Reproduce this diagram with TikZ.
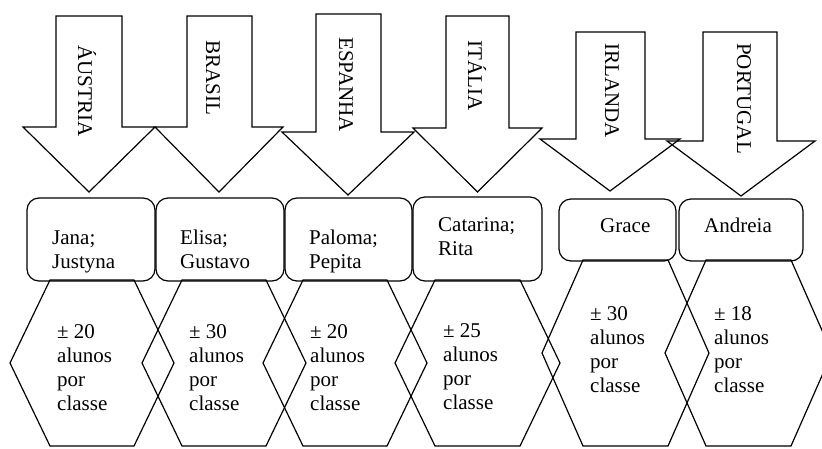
\documentclass[tikz,border=0pt]{standalone}
\usepackage{fontspec}
\setmainfont{Liberation Serif}
\tikzset{
  outline/.style={draw=black, line width=1.2pt, line join=miter},
  txt/.style={inner sep=0pt, font=\fontsize{21}{24}\selectfont},
  vlabel/.style={txt, rotate=-90, anchor=base west},
  btxt/.style={txt, anchor=base west}
}
% lines stacked with their first baseline as the node's baseline
\newcommand\stacked[1]{\begin{tabular}[t]{@{}l@{}}#1\end{tabular}}
% down arrow: shaft left, shaft right, top, head base, head left, head right, tip y
\newcommand\countryarrow[7]{%
  \draw[outline] (#1,#3) -- (#2,#3) -- (#2,#4) -- (#6,#4)
    -- ({(#5+#6)/2},#7) -- (#5,#4) -- (#1,#4) -- cycle;}
% hexagon: top left x, top right x, top y, side vertex y, bottom y, side offset
\newcommand\classhex[6]{%
  \draw[outline] (#1,#3) -- (#2,#3) -- ({#2+#6},#4) -- (#2,#5)
    -- (#1,#5) -- ({#1-#6},#4) -- cycle;}
\begin{document}
\begin{tikzpicture}[x=1pt,y=-1pt]
\useasboundingbox (0,0) rectangle (822,448);

% country arrows
\countryarrow{56}{122}{16}{127}{23}{155}{192}
\countryarrow{187}{252}{16}{127}{155}{283}{192}
\countryarrow{316}{381}{14}{132}{282}{414}{195}
\countryarrow{446}{509}{16}{128}{413}{542}{192}
\countryarrow{576}{645}{32}{139}{540}{680}{191}
\countryarrow{703}{777}{32}{141}{667}{815}{196}

\node[vlabel] (aus) at (78,45) {ÁUSTRIA};
\node[vlabel] (bra) at (206,40) {BRASIL};
\node[vlabel] (esp) at (339,37) {ESPANHA};
\node[vlabel] (ita) at (468,40) {ITÁLIA};
\node[vlabel] (irl) at (605,43) {IRLANDA};
\node[vlabel] (por) at (737,43) {PORTUGAL};

% name boxes
\draw[outline, rounded corners=12pt] (27,198) rectangle (155,281);
\draw[outline, rounded corners=12pt] (156,198) rectangle (284,281);
\draw[outline, rounded corners=12pt] (285,198) rectangle (412,281);
\draw[outline, rounded corners=12pt] (413,197) rectangle (542,281);
\draw[outline, rounded corners=12pt] (559,199) rectangle (676,261);
\draw[outline, rounded corners=12pt] (679,199) rectangle (803,261);

\node[btxt] (n1) at (52,244) {\stacked{Jana;\\Justyna}};
\node[btxt] (n2) at (180,244) {\stacked{Elisa;\\Gustavo}};
\node[btxt] (n3) at (309,244) {\stacked{Paloma;\\Pepita}};
\node[btxt] (n4) at (438,231) {\stacked{Catarina;\\Rita}};
\node[btxt] (n5) at (600,232) {Grace};
\node[btxt] (n6) at (704,232) {Andreia};

% class size hexagons
\classhex{50}{134}{280}{363}{446}{40}
\classhex{182}{266}{280}{363}{446}{40}
\classhex{303}{387}{280}{363}{446}{40}
\classhex{435}{520}{280}{363}{446}{40}
\classhex{583}{668}{260}{353}{446}{41}
\classhex{706}{791}{260}{353}{446}{41}

\node[btxt] (c1) at (57,338) {\stacked{± 20\\alunos\\por\\classe}};
\node[btxt] (c2) at (189,338) {\stacked{± 30\\alunos\\por\\classe}};
\node[btxt] (c3) at (310,338) {\stacked{± 20\\alunos\\por\\classe}};
\node[btxt] (c4) at (443,337) {\stacked{± 25\\alunos\\por\\classe}};
\node[btxt] (c5) at (590,320) {\stacked{± 30\\alunos\\por\\classe}};
\node[btxt] (c6) at (714,320) {\stacked{± 18\\alunos\\por\\classe}};
\end{tikzpicture}
\end{document}
